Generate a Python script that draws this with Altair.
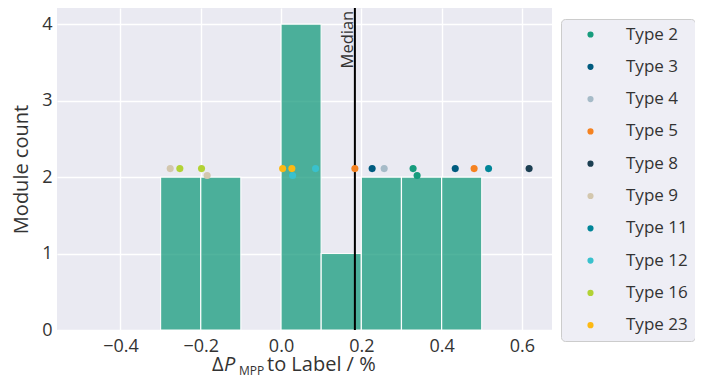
import altair as alt
import pandas as pd
import numpy as np

# Histogram bins (left edge, right edge, count)
bin_start = [-0.3, -0.2, 0.0, 0.1, 0.2, 0.3, 0.4]
bin_end = [-0.2, -0.1, 0.1, 0.2, 0.3, 0.4, 0.5]
bin_count = [2, 2, 4, 1, 2, 2, 2]

# Individual modules
pt_type = ["Type 9", "Type 16", "Type 16", "Type 9", "Type 23", "Type 23", "Type 12",
           "Type 12", "Type 5", "Type 3", "Type 4", "Type 2", "Type 2", "Type 3",
           "Type 5", "Type 11", "Type 8"]
pt_value = [-0.276, -0.252, -0.198, -0.184, 0.004, 0.027, 0.029, 0.086, 0.184,
            0.227, 0.257, 0.329, 0.339, 0.434, 0.481, 0.517, 0.618]
pt_level = [2.11, 2.11, 2.11, 2.02, 2.11, 2.11, 2.02, 2.11, 2.11,
            2.11, 2.11, 2.11, 2.02, 2.11, 2.11, 2.11, 2.11]

types = ["Type 2", "Type 3", "Type 4", "Type 5", "Type 8", "Type 9",
         "Type 11", "Type 12", "Type 16", "Type 23"]
type_colors = ["#179c7d", "#005b7f", "#a6bbc8", "#f58220", "#1c3f52", "#d3c7ae",
               "#008598", "#39c1cd", "#b2d235", "#fdb913"]

FONT = "Open Sans"
TXT = "#333333"
bars_df = pd.DataFrame({"x": bin_start, "x2": bin_end, "n": bin_count})
pts_df = pd.DataFrame({"v": pt_value, "y": pt_level, "t": pt_type})
median = float(np.median(pt_value))
med_df = pd.DataFrame({"m": [median], "ytop": [4.2]})

xscale = alt.Scale(domain=[-0.558, 0.675], nice=False, zero=False)
yscale = alt.Scale(domain=[0, 4.21], nice=False)

xaxis = alt.Axis(values=[-0.4, -0.2, 0.0, 0.2, 0.4, 0.6], format=".1f", title=None,
                 labelFontSize=18, labelColor=TXT, labelFont=FONT,
                 domain=False, ticks=False, gridColor="white", gridWidth=1.4,
                 labelPadding=7)
yaxis = alt.Axis(values=[0, 1, 2, 3, 4], format="d", title="Module count",
                 titleFontSize=20, titleFont=FONT, titleFontWeight="normal",
                 titleColor=TXT, labelFontSize=18, labelColor=TXT,
                 labelFont=FONT, domain=False, ticks=False, gridColor="white",
                 gridWidth=1.4, labelPadding=5, titlePadding=10)

bars = alt.Chart(bars_df).mark_bar(color="#179c7d", opacity=0.75, stroke="white",
                                   strokeWidth=1.2).encode(
    x=alt.X("x:Q", scale=xscale, axis=xaxis),
    x2="x2:Q",
    y=alt.Y("n:Q", scale=yscale, axis=yaxis),
    y2=alt.datum(0),
)

rule = alt.Chart(med_df).mark_rule(color="black", strokeWidth=2).encode(
    x=alt.X("m:Q", scale=xscale)
)

med_text = alt.Chart(med_df).mark_text(text="Median", angle=270, align="right",
                                       baseline="alphabetic", fontSize=16.5, font=FONT,
                                       color=TXT, dy=-2, dx=-2).encode(
    x=alt.X("m:Q", scale=xscale), y=alt.Y("ytop:Q", scale=yscale)
)

points = alt.Chart(pts_df).mark_circle(size=50, opacity=1).encode(
    x=alt.X("v:Q", scale=xscale),
    y=alt.Y("y:Q", scale=yscale),
    color=alt.Color("t:N", scale=alt.Scale(domain=types, range=type_colors),
                    legend=alt.Legend(title=None, orient="none", legendX=504, legendY=11,
                                      labelFontSize=17, labelFont=FONT, labelColor=TXT,
                                      symbolSize=38, symbolType="circle",
                                      fillColor="#eeeef5", strokeColor="#cccccc",
                                      cornerRadius=4, padding=7, rowPadding=14.3,
                                      symbolOffset=14, labelOffset=27,
                                      labelLimit=200)),
)

# x-axis title with subscript, composed of text pieces
one = pd.DataFrame({"a": [0]})
t1 = alt.Chart(one).mark_text(
    text="Δ", fontSize=20, font=FONT, color=TXT, align="left", baseline="alphabetic"
).encode(x=alt.value(155), y=alt.value(363))
t2 = alt.Chart(one).mark_text(
    text="P", fontSize=20, font=FONT, fontStyle="italic", color=TXT, align="left",
    baseline="alphabetic"
).encode(x=alt.value(167), y=alt.value(363))
t3 = alt.Chart(one).mark_text(
    text="MPP", fontSize=12, font=FONT, color=TXT, align="left", baseline="alphabetic"
).encode(x=alt.value(182), y=alt.value(366.5))
t4 = alt.Chart(one).mark_text(
    text="to Label / %", fontSize=20, font=FONT, color=TXT, align="left",
    baseline="alphabetic"
).encode(x=alt.value(210), y=alt.value(363))

chart = alt.layer(bars, rule, med_text, points, t1, t2, t3, t4).properties(
    width=495, height=322,
    autosize=alt.AutoSizeParams(type="none"),
    padding={"left": 49, "top": 0, "right": 143, "bottom": 49},
    background="white"
).configure_view(fill="#eaeaf2", stroke=None)

chart.save("out.html", embed_options={"renderer": "svg", "actions": False})
